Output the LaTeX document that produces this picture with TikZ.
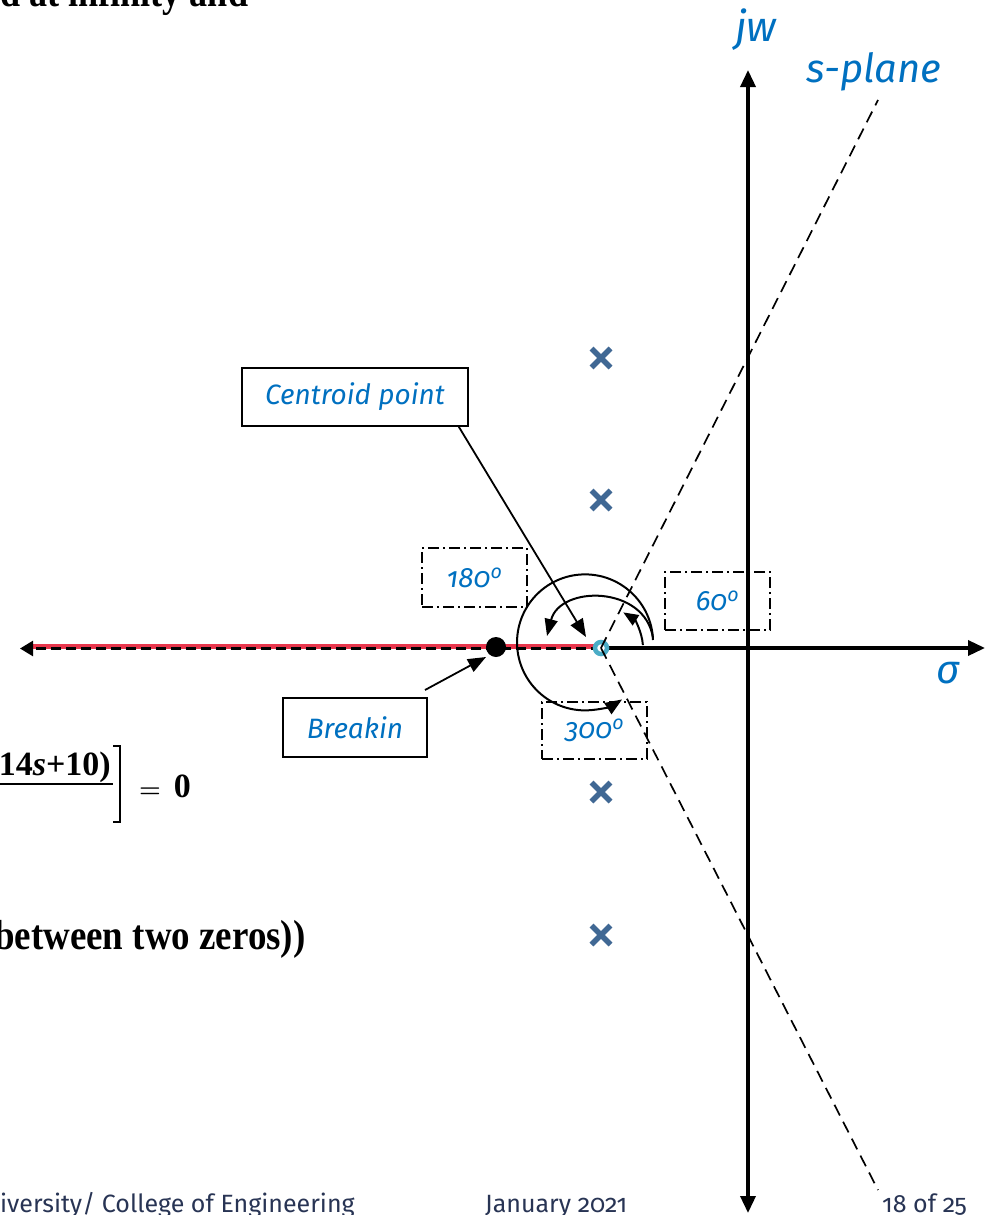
\documentclass[tikz,border=0pt]{standalone}
\usepackage{fontspec}
\setmainfont{Liberation Serif}
\newfontfamily\lblfont[Numbers=OldStyle]{Fira Sans}
\usetikzlibrary{arrows.meta}
\definecolor{lblblue}{RGB}{0,112,192}
\definecolor{polecol}{RGB}{64,104,148}
\definecolor{rlred}{RGB}{232,54,76}
\definecolor{ringcol}{RGB}{75,172,198}
\definecolor{footcol}{RGB}{40,52,84}
\tikzset{
 lbl/.style={font=\lblfont\itshape\fontsize{28}{32}\selectfont, text=lblblue, inner sep=0pt},
 biglbl/.style={font=\lblfont\itshape\fontsize{40}{44}\selectfont, text=lblblue, inner sep=0pt},
 solidbox/.style={draw=black, line width=1.7pt},
 dashdotbox/.style={draw=black, line width=1.8pt, dash pattern=on 11pt off 4pt on 2pt off 4pt},
 axisline/.style={line width=3.5pt},
 asym/.style={line width=1.7pt, dash pattern=on 12pt off 7pt},
 pointer/.style={line width=1.8pt, -{Triangle[length=18pt,width=14pt]}},
 arcline/.style={line width=2pt, -{Triangle[length=17pt,width=13pt]}},
 pole/.style={line width=5.5pt, draw=polecol},
 serifbig/.style={font=\bfseries\fontsize{42}{42}\selectfont, inner sep=0pt},
 eqfont/.style={font=\bfseries\fontsize{34}{34}\selectfont, inner sep=0pt},
 foot/.style={font=\lblfont\fontsize{25}{27}\selectfont, text=footcol, inner sep=0pt},
}
\begin{document}
\begin{tikzpicture}[x=1pt,y=1pt]
\useasboundingbox (0,0) rectangle (994,-1215);
\clip (0,0) rectangle (994,-1215);

% cut-off slide text
\node[serifbig, anchor=base west] (ttop) at (0,-7) {\scalebox{0.86}[1]{d at infinity and}};
\node[serifbig, anchor=base west] (tzeros) at (-6,-949) {\scalebox{0.88}[1]{between two zeros))}};
\node[eqfont, anchor=base east] (tnum) at (111,-775) {+14\textit{s}+10)};
\draw[line width=2.8pt] (0,-784) -- (113,-784);
\draw[line width=2.5pt] (113,-746) -- (120,-746) -- (120,-822) -- (113,-822);
\node[eqfont, anchor=base west] (teq) at (139,-797) {{\boldmath$=$}\hspace{13pt}0};

% footer
\node[foot, anchor=base west] (f1) at (0,-1212) {iversity/ College of Engineering};
\node[foot, anchor=base west] (f2) at (485,-1212) {January 2021};
\node[foot, anchor=base west] (f3) at (882,-1212) {18 of 25};

% key points
\coordinate (cen) at (601,-648);
\coordinate (brkpt) at (496,-647);
\coordinate (xr) at (985,-648);
\coordinate (xl) at (20,-648.5);
\coordinate (yt) at (748,-70);
\coordinate (yb) at (748,-1213);
\coordinate (aup) at (878,-100);
\coordinate (adn) at (878,-1190);

% axes
\draw[axisline, -{Triangle[length=17pt,width=15pt]}] (cen) -- (xr);
\draw[axisline, {Triangle[length=17pt,width=15pt]}-{Triangle[length=17pt,width=15pt]}] (yb) -- (yt);
\draw[line width=5pt, rlred] (601,-646.5) -- (33,-646.5);
\draw[line width=2.5pt, dash pattern=on 10pt off 5pt, -{Triangle[length=13pt,width=15pt]}] (601,-648.5) -- (xl);

% poles
\foreach \py/\pn in {358/p1,500/p2,792/p3,935/p4}{
  \coordinate (\pn) at (601,-\py);
  \draw[pole] (\pn) +(-9.5,-9.5) -- +(9.5,9.5) +(-9.5,9.5) -- +(9.5,-9.5);
}

% centroid ring and breakin point
\draw[ringcol, line width=4.5pt, fill=white] (cen) circle (6);
\fill[black] (brkpt) circle (10);

% asymptotes
\draw[asym] (cen) -- (aup);
\draw[asym] (cen) -- (adn);

% angle arcs
\draw[arcline] (653,-640) arc[start angle=2, end angle=303, radius=68];
\draw[arcline] (653,-638) .. controls (645,-585) and (560,-585) .. (547,-636);
\draw[arcline, -{Triangle[length=15pt,width=12pt]}] ([shift={(4:42)}]cen) arc[start angle=4, end angle=58, radius=42];

% boxes
\node[solidbox, lbl, minimum width=226pt, minimum height=58pt] (cbox) at (355,-397) {Centroid point};
\node[solidbox, lbl, minimum width=144pt, minimum height=59pt] (bbox) at (355,-727.5) {Breakin};
\node[dashdotbox, lbl, minimum width=105pt, minimum height=59pt] (a180) at (474.5,-577.5) {180\textsuperscript{o}};
\node[dashdotbox, lbl, minimum width=105pt, minimum height=58pt] (a60) at (717.5,-601) {60\textsuperscript{o}};
\node[dashdotbox, lbl, minimum width=105pt, minimum height=57pt] (a300) at (594.5,-730.5) {300\textsuperscript{o}};

% pointers
\coordinate (ctip) at (586,-637);
\coordinate (btip) at (486,-657);
\coordinate (bstart) at (425,-690);
\draw[pointer] ([xshift=-10pt]cbox.south east) -- (ctip);
\draw[pointer] (bstart) -- (btip);

% axis labels
\node[biglbl, anchor=base, font=\lblfont\itshape\fontsize{42}{46}\selectfont] (ljw) at (756,-42) {jw};
\node[biglbl, anchor=base] (lsp) at (874,-82) {s-plane};
\node[biglbl, anchor=base] (lsig) at (948,-683) {σ};
\end{tikzpicture}
\end{document}
